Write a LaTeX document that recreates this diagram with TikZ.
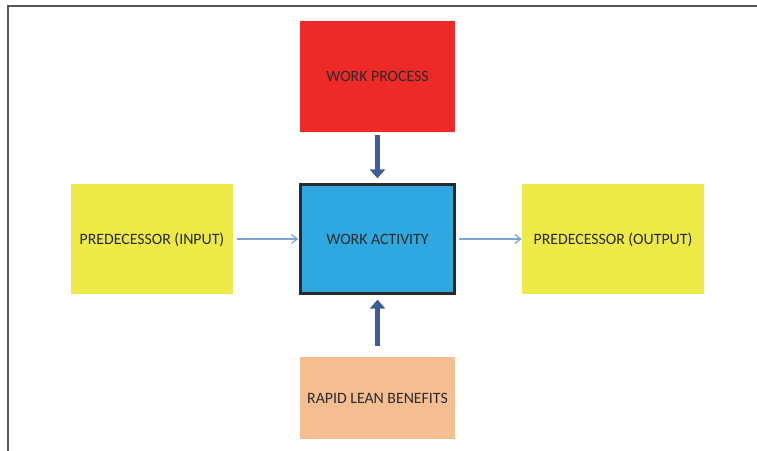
\documentclass[tikz,border=0pt]{standalone}
\usepackage{fontspec}
\setmainfont{Carlito}
\usetikzlibrary{arrows.meta}
\definecolor{wpred}{HTML}{EE2A29}
\definecolor{wablue}{HTML}{2EA8DF}
\definecolor{yel}{HTML}{EDE946}
\definecolor{peach}{HTML}{F5BE91}
\definecolor{blk}{HTML}{3D5E94}
\definecolor{thin}{HTML}{7FA3D0}
\definecolor{txt}{HTML}{2A2A2A}
\definecolor{frame}{HTML}{555555}
\tikzset{
  box/.style={rectangle, inner sep=0pt, text=txt, font=\fontsize{15.8}{18}\selectfont, text depth=-1.5pt},
  blockarrow/.style={draw=blk, line width=5pt, -{Triangle[width=15pt,length=9pt]}},
  thinarrow/.style={draw=thin, line width=1.2pt, -{Straight Barb[width=9pt,length=6pt]}}
}
\begin{document}
\begin{tikzpicture}[x=1pt,y=-1pt]
\useasboundingbox (0,0) rectangle (757,450);
\draw[frame, line width=1.6pt] (8,452) -- (8,6) -- (760,6);
\node[box, fill=wpred, minimum width=155pt, minimum height=111pt] (wp) at (377.5,76.5) {WORK PROCESS};
\node[box, fill=wablue, draw=txt, line width=2.2pt, minimum width=154pt, minimum height=109pt] (wa) at (377.5,239) {WORK ACTIVITY};
\node[box, fill=yel, minimum width=162pt, minimum height=110pt] (in) at (152,239) {PREDECESSOR (INPUT)};
\node[box, fill=yel, minimum width=182pt, minimum height=110pt] (out) at (613,239) {PREDECESSOR (OUTPUT)};
\node[box, fill=peach, minimum width=155pt, minimum height=82pt] (rl) at (377.5,398) {RAPID LEAN BENEFITS};
\draw[blockarrow, shorten <=3pt, shorten >=5pt] (wp.south) -- (wa.north);
\draw[blockarrow, shorten <=11pt, shorten >=5pt] (rl.north) -- (wa.south);
\draw[thinarrow, shorten <=4pt, shorten >=1pt] (in.east) -- (wa.west);
\draw[thinarrow, shorten <=3pt, shorten >=0pt] (wa.east) -- (out.west);
\end{tikzpicture}
\end{document}
